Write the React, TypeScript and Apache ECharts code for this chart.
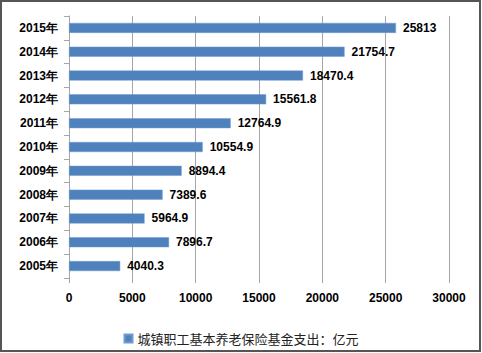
import React, { useEffect, useRef } from "react";
import * as echarts from "echarts";

const categories = ["2005年", "2006年", "2007年", "2008年", "2009年", "2010年", "2011年", "2012年", "2013年", "2014年", "2015年"];
const values = [4040.3, 7896.7, 5964.9, 7389.6, 8894.4, 10554.9, 12764.9, 15561.8, 18470.4, 21754.7, 25813];
const seriesName = "城镇职工基本养老保险基金支出：亿元";

export default function App() {
  const ref = useRef<HTMLDivElement>(null);
  useEffect(() => {
    document.body.style.margin = "0";
    const chart = echarts.init(ref.current!, undefined, { renderer: "svg" });
    const font = "'Liberation Sans', Arial, sans-serif";
    chart.setOption({
      animation: false,
      backgroundColor: "#ffffff",
      grid: { left: 69, right: 33, top: 16, bottom: 75, containLabel: false },
      xAxis: {
        type: "value",
        min: 0,
        max: 30000,
        interval: 5000,
        axisLine: { show: false },
        axisTick: { show: true, length: 5, lineStyle: { color: "#a6a6a6" } },
        splitLine: { show: true, lineStyle: { color: "#a6a6a6", width: 1 } },
        axisLabel: {
          margin: 14,
          color: "#000",
          fontWeight: "bold",
          fontSize: 12,
          fontFamily: font,
          formatter: (v: number) => String(v),
        },
      },
      yAxis: {
        type: "category",
        data: categories,
        axisLine: { show: true, lineStyle: { color: "#a6a6a6" } },
        axisTick: { show: true, length: 5, lineStyle: { color: "#a6a6a6" } },
        axisLabel: { margin: 11, color: "#000", fontWeight: "bold", fontSize: 12, fontFamily: font },
      },
      legend: {
        show: true,
        left: "center",
        top: 327,
        itemWidth: 8,
        itemHeight: 8,
        itemGap: 4,
        icon: "rect",
        textStyle: { color: "#222", fontSize: 13, fontFamily: "'Noto Sans CJK SC', sans-serif" },
        data: [seriesName],
      },
      series: [
        {
          name: seriesName,
          type: "bar",
          data: values,
          barWidth: 10,
          itemStyle: { color: "#4f81bd", borderColor: "#6f9bd1", borderWidth: 0.5 },
          label: {
            show: true,
            position: "right",
            distance: 7,
            color: "#000",
            fontWeight: "bold",
            fontSize: 12,
            fontFamily: font,
          },
        },
      ],
      graphic: [
        {
          type: "rect",
          shape: { x: 1, y: 1, width: 479, height: 350 },
          style: { fill: "none", stroke: "#555555", lineWidth: 2 },
          silent: true,
        },
      ],
    });
    return () => chart.dispose();
  }, []);
  return <div ref={ref} style={{ width: 482, height: 353 }} />;
}
